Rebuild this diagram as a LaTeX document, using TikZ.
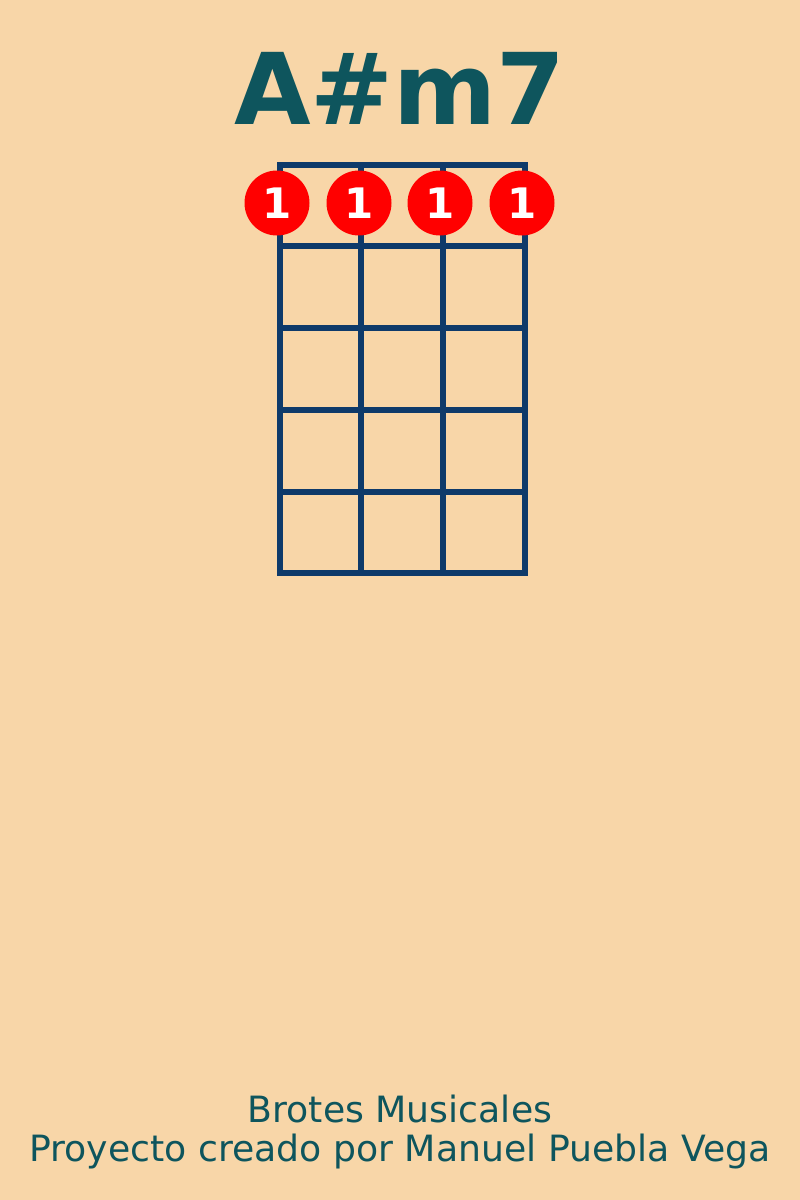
\documentclass[tikz,border=0pt]{standalone}
\usepackage{fontspec}
\setmainfont{DejaVu Sans}
\usetikzlibrary{positioning}
\definecolor{paper}{RGB}{248,214,168}
\definecolor{titleink}{RGB}{14,85,93}
\definecolor{fretink}{RGB}{14,58,106}
\definecolor{dotred}{RGB}{255,0,0}

\begin{document}
\begin{tikzpicture}[
  x=1pt, y=-1pt,
  fret/.style={draw=fretink, line width=5.5pt},
  finger/.style={circle, fill=dotred, minimum size=65pt, inner sep=0pt, text=white, font=\bfseries\fontsize{42}{42}\selectfont},
  chordname/.style={text=titleink, inner sep=0pt, font=\bfseries\fontsize{99}{99}\selectfont},
  credit/.style={text=titleink, inner sep=0pt, font=\fontsize{36.2}{39}\selectfont}
]
\fill[paper] (0,0) rectangle (800,1200);
\useasboundingbox (0,0) rectangle (800,1200);
% chord name
\node[chordname, anchor=base] (chord) at (400,124) {A\#m7};
% fretboard
\draw[fret] (280,165) rectangle (525,573);
\draw[fret] (361,165) -- (361,573);
\draw[fret] (443,165) -- (443,573);
\draw[fret] (280,246) -- (525,246);
\draw[fret] (280,328) -- (525,328);
\draw[fret] (280,410) -- (525,410);
\draw[fret] (280,492) -- (525,492);
% fingers
\node[finger] (fingerA) at (277,203) {1};
\node[finger] (fingerB) at (359,203) {1};
\node[finger] (fingerC) at (440,203) {1};
\node[finger] (fingerD) at (522,203) {1};
% footer
\node[credit, anchor=base] (brand) at (400,1122) {Brotes Musicales};
\node[credit, anchor=base] (author) at (400,1161) {Proyecto creado por Manuel Puebla Vega};
\end{tikzpicture}
\end{document}
